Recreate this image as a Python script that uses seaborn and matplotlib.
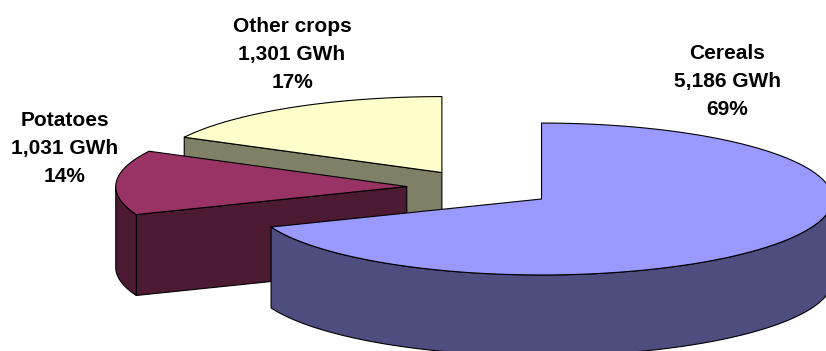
import numpy as np
import matplotlib
matplotlib.use("Agg")
import matplotlib.pyplot as plt
from matplotlib.patches import Polygon
import seaborn as sns

# Energy use by crop type
categories = ["Cereals", "Potatoes", "Other crops"]
energy_gwh = [5186, 1031, 1301]

# Face colours (top, side) per slice
top_colors = ["#9999FF", "#993366", "#FFFFCC"]
side_colors = ["#4D4D80", "#4D1A33", "#808066"]

# Slice explosion (fraction of radius) and label anchors in pie units
# (anchor = baseline of the middle label line)
explode = [0.27, 0.24, 0.23]
label_pos = [(0.861, 0.345), (-1.414, 0.115), (-0.634, 0.438)]
LINE_STEP = 0.0962  # distance between label lines

TILT = 0.261    # vertical squash of the pie ellipse
DEPTH = 0.278   # thickness of the pie
START = 90.0    # first slice starts at 12 o'clock, going clockwise

sns.set_theme(style="white")
plt.rcParams["font.family"] = ["Liberation Sans", "DejaVu Sans"]

fig = plt.figure(figsize=(8.26, 3.51), dpi=100)
ax = fig.add_axes([0, 0, 1, 1])
ax.set_xlim(-1.6375, 1.2010)
ax.set_ylim(-0.5619, 0.6443)
ax.axis("off")


def rim(t_deg, ox, oy, z=0.0):
    t = np.radians(t_deg)
    return np.column_stack([ox + np.cos(t), oy + TILT * np.sin(t) + z])


def face(xy, color):
    ax.add_patch(Polygon(xy, closed=True, facecolor=color, edgecolor="black",
                         linewidth=0.8, joinstyle="round"))


total = float(sum(energy_gwh))
slices = []
t_hi = START
for i, v in enumerate(energy_gwh):
    sweep = 360.0 * v / total
    t_lo = t_hi - sweep
    mid = np.radians((t_lo + t_hi) / 2)
    ox = explode[i] * np.cos(mid)
    oy = explode[i] * TILT * np.sin(mid)
    slices.append(dict(i=i, lo=t_lo, hi=t_hi, ox=ox, oy=oy, depth_key=np.sin(mid)))
    t_hi = t_lo

# Paint back-to-front
for s in sorted(slices, key=lambda d: -d["depth_key"]):
    i, lo, hi, ox, oy = s["i"], s["lo"], s["hi"], s["ox"], s["oy"]
    apex_top = np.array([[ox, oy]])
    apex_bot = np.array([[ox, oy - DEPTH]])

    # cut faces turned towards the viewer
    for t, visible in ((hi, np.cos(np.radians(hi)) < -1e-6),
                       (lo, np.cos(np.radians(lo)) > 1e-6)):
        if visible:
            xy = np.vstack([apex_top, rim([t], ox, oy), rim([t], ox, oy, -DEPTH), apex_bot])
            face(xy, side_colors[i])

    # front part of the outer wall
    for k in (-1, 0, 1):
        a = max(lo, -180 + 360 * k)
        b = min(hi, 360 * k)
        if b > a:
            ts = np.linspace(a, b, 120)
            xy = np.vstack([rim(ts, ox, oy), rim(ts[::-1], ox, oy, -DEPTH)])
            face(xy, side_colors[i])

    # top face
    ts = np.linspace(lo, hi, 240)
    xy = np.vstack([apex_top, rim(ts, ox, oy)])
    face(xy, top_colors[i])

for i, (cat, v) in enumerate(zip(categories, energy_gwh)):
    pct = 100.0 * v / total
    lines = [cat, f"{v:,} GWh", f"{pct:.0f}%"]
    x0, y0 = label_pos[i]
    for j, line in enumerate(lines):
        ax.text(x0, y0 + (1 - j) * LINE_STEP, line, ha="center", va="baseline",
                fontsize=15, fontweight="bold", color="black")

fig.savefig("out.png", dpi=100, facecolor="white")
